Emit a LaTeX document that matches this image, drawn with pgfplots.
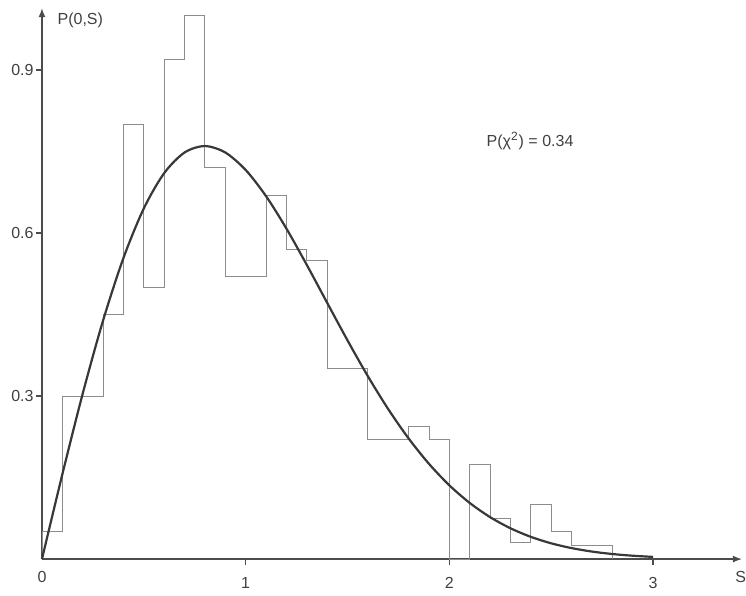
\documentclass[border=0pt]{standalone}
\usepackage{fontspec}
\setmainfont{Liberation Sans}
\usepackage{pgfplots}
\pgfplotsset{compat=1.18}
\usetikzlibrary{arrows.meta}
\definecolor{histc}{gray}{0.55}
\definecolor{curvec}{gray}{0.22}
\definecolor{axc}{gray}{0.30}
\definecolor{txtc}{gray}{0.25}
\begin{document}
\begin{tikzpicture}
\begin{axis}[
  x=101.85pt, y=271.65pt,
  xmin=0, xmax=3.436, ymin=0, ymax=1.014,
  axis lines=left,
  axis line style={draw=axc, line width=0.7pt},
  x axis line style={-{Latex[length=4.5pt,width=3.5pt]}},
  y axis line style={-{Latex[length=4.5pt,width=3.5pt]}},
  tick align=outside,
  major tick length=3pt,
  tick style={draw=axc, line width=0.6pt},
  xtick={1,2,3},
  extra x ticks={0},
  extra x tick style={major tick length=0pt},
  ytick={0.3,0.6,0.9},
  /pgf/number format/assume math mode=true,
  /pgf/number format/fixed,
  /pgf/number format/precision=1,
  ticklabel style={font=\fontsize{8}{9}\selectfont, text=txtc},
  xticklabel style={yshift=-2.5pt},
  yticklabel style={inner sep=1pt},
  clip=false,
]
\path[draw=none] (axis cs:-0.206,-0.044) rectangle (axis cs:3.456,1.029);

% histogram (bin start, height), bins of width 0.1
\addplot[const plot mark left, draw=histc, line width=0.45pt, mark=none] coordinates {
(0,0) (0,0.05) (0.1,0.30) (0.2,0.30) (0.3,0.45) (0.4,0.80) (0.5,0.50)
(0.6,0.92) (0.7,1.00) (0.8,0.72) (0.9,0.52) (1.0,0.52) (1.1,0.67)
(1.2,0.57) (1.3,0.55) (1.4,0.35) (1.5,0.35) (1.6,0.22) (1.7,0.22)
(1.8,0.245) (1.9,0.22) (2.0,0) (2.1,0.175) (2.2,0.075) (2.3,0.03)
(2.4,0.10) (2.5,0.05) (2.6,0.025) (2.7,0.025) (2.8,0)
};

% fitted curve
\addplot[smooth, draw=curvec, line width=1.1pt, mark=none] coordinates {
(0,0) (0.1,0.15585) (0.2,0.30444) (0.3,0.43908) (0.4,0.55412)
(0.5,0.64538) (0.6,0.71035) (0.7,0.74832) (0.8,0.76017) (0.9,0.74832)
(1.0,0.71619) (1.1,0.66800) (1.2,0.60832) (1.3,0.54151) (1.4,0.47178)
(1.5,0.40251) (1.6,0.33648) (1.7,0.27593) (1.8,0.22199) (1.9,0.17525)
(2.0,0.13575) (2.1,0.10328) (2.2,0.07720) (2.3,0.05669) (2.4,0.04090)
(2.5,0.02899) (2.6,0.02020) (2.7,0.01383) (2.8,0.00931) (2.9,0.00616)
(3.0,0.00401)
};

\node[anchor=west, font=\fontsize{8}{9}\selectfont, text=txtc, inner sep=0pt] at (axis cs:0.075,0.992) {P(0,S)};
\node[font=\fontsize{8}{9}\selectfont, text=txtc, inner sep=0pt] at (axis cs:3.43,-0.033) {S};
\node[font=\fontsize{8}{9}\selectfont, text=txtc, inner sep=0pt] at (axis cs:2.396,0.769) {P(χ\textsuperscript{2}) = 0.34};
\end{axis}
\end{tikzpicture}
\end{document}
